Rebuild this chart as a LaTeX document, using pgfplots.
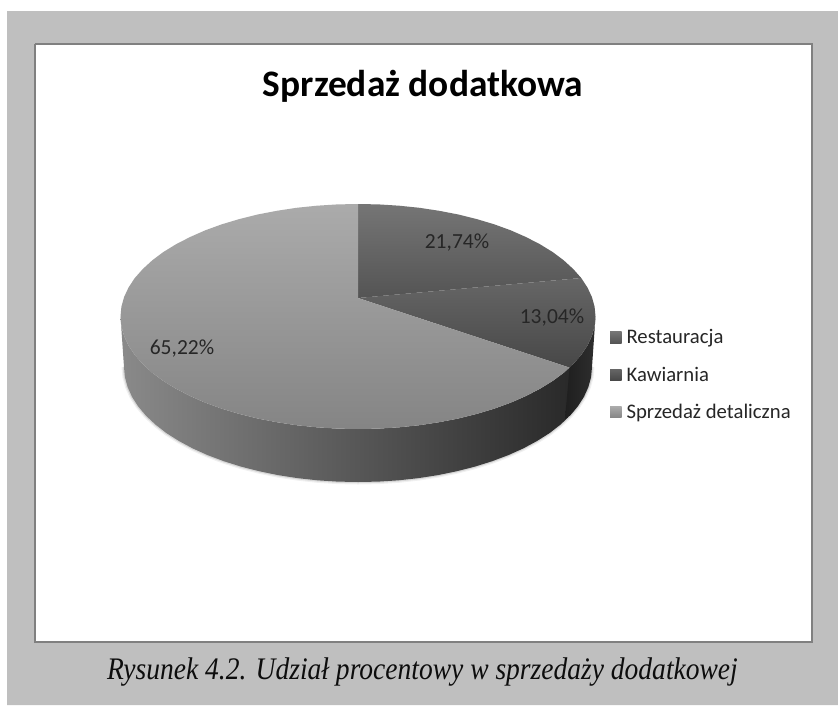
\documentclass[border=0pt]{standalone}
\usepackage{fontspec}
\setmainfont{Carlito}
\newfontfamily\capfont{Liberation Serif}
\usepackage{graphicx}
\usepackage{pgfplots}
\usepackage{pgfplotstable}
\pgfplotsset{compat=1.18}
\definecolor{pagebg}{HTML}{BFBFBF}
\definecolor{framec}{HTML}{808080}
\definecolor{txt}{HTML}{262626}

% slice shares (%): Restauracja 21.74, Kawiarnia 13.04, Sprzedaz detaliczna 65.22
\pgfplotstableread{
x y
358 298
358 204
378.7 204.4
399.2 205.7
419.5 207.8
439.2 210.8
458.4 214.5
476.8 219.1
494.2 224.3
510.7 230.3
525.9 237
539.9 244.2
552.6 252
563.7 260.3
573.2 269
581.2 278
358 298
}\sliceA
\pgfplotstableread{
x y
358 298
581.2 278
587.4 287.4
591.9 297
594.6 306.7
595.5 316.5
594.6 326.3
591.9 336
587.4 345.6
581.2 355
573.2 364
569.6 367.6
358 298
}\sliceB
\pgfplotstableread{
x y
358 298
569.6 367.6
563.7 372.8
552.6 381
539.9 388.8
525.9 396
510.7 402.7
494.2 408.7
476.8 413.9
458.4 418.5
439.2 422.2
419.5 425.2
399.2 427.3
378.7 428.6
358 429
337.3 428.6
316.8 427.3
296.5 425.2
276.8 422.2
257.6 418.5
239.2 413.9
221.8 408.7
205.3 402.7
190.1 396
176.1 388.8
163.4 381
152.3 372.8
142.8 364
134.8 355
128.6 345.6
124.1 336
121.4 326.3
120.5 316.5
121.4 306.7
124.1 297
128.6 287.4
134.8 278
142.8 269
152.3 260.3
163.4 252
176.1 244.2
190.1 237
205.3 230.3
221.8 224.3
239.2 219.1
257.6 214.5
276.8 210.8
296.5 207.8
316.8 205.7
337.3 204.4
358 204
358 298
}\sliceC
\pgfplotstableread{
x y
572 365
563.7 372.8
552.6 381
539.9 388.8
525.9 396
510.7 402.7
494.2 408.7
476.8 413.9
458.4 418.5
439.2 422.2
419.5 425.2
399.2 427.3
378.7 428.6
358 429
337.3 428.6
316.8 427.3
296.5 425.2
276.8 422.2
257.6 418.5
239.2 413.9
221.8 408.7
205.3 402.7
190.1 396
176.1 388.8
163.4 381
152.3 372.8
142.8 364
134.8 355
128.6 345.6
124.1 336
121.4 326.3
120.5 316.5
124 367
124.9 377
127.6 387
132 396.8
138.1 406.3
145.9 415.6
155.4 424.5
166.3 433
178.8 440.9
192.5 448.3
207.6 455.1
223.8 461.2
241 466.6
259.1 471.2
278 475.1
297.4 478.1
317.4 480.3
337.6 481.6
358 482
378.4 481.6
398.6 480.3
418.6 478.1
438 475.1
456.9 471.2
475 466.6
492.2 461.2
508.4 455.1
523.5 448.3
537.2 440.9
549.7 433
560.6 424.5
568 417.5
572 365
}\sideC
\pgfplotstableread{
x y
569.6 367.6
573.2 364
581.2 355
587.4 345.6
591.9 336
594.6 326.3
595.5 316.5
592 367
591.1 377
588.4 387
584 396.8
577.9 406.3
570.1 415.6
565 419
569.6 367.6
}\sideB
\pgfplotstableread{
x y
124 367
124.9 377
127.6 387
132 396.8
138.1 406.3
145.9 415.6
155.4 424.5
166.3 433
178.8 440.9
192.5 448.3
207.6 455.1
223.8 461.2
241 466.6
259.1 471.2
278 475.1
297.4 478.1
317.4 480.3
337.6 481.6
358 482
378.4 481.6
398.6 480.3
418.6 478.1
438 475.1
456.9 471.2
475 466.6
492.2 461.2
508.4 455.1
523.5 448.3
537.2 440.9
549.7 433
560.6 424.5
570.1 415.6
577.9 406.3
584 396.8
588.4 387
591.1 377
592 367
}\shadowArc

\pgfplotsset{
  pielegend/.style={legend image code/.code={
    \path[##1,draw=none] (0pt,-5.75pt) rectangle (11.5pt,5.75pt);}},
}
\begin{document}
\begin{tikzpicture}
\begin{axis}[
  scale only axis, width=838pt, height=705pt,
  xmin=0, xmax=838, ymin=0, ymax=705, y dir=reverse,
  hide axis, clip=false,
  title={\fontsize{37.4}{42}\selectfont\bfseries Sprzedaż dodatkowa},
  title style={at={(423/838,1-92/705)}, anchor=center, inner sep=0pt, text=black},
  legend style={draw=none, fill=none, at={(0.728,0.5324)}, anchor=north west,
    font=\fontsize{20.7}{23}\selectfont, text=txt, row sep=21.5pt, inner sep=0pt, outer sep=0pt,
    nodes={inner xsep=5pt, inner ysep=0pt, anchor=west}},
  legend cell align=left,
]
% page and chart frame
\addplot[forget plot, fill=white, draw=none] coordinates {(0,0) (838,0) (838,705) (0,705) (0,0)};
\addplot[forget plot, fill=pagebg, draw=none] coordinates {(7,11) (838,11) (838,705) (7,705) (7,11)};
\addplot[forget plot, fill=white, draw=framec, line width=1.6pt] coordinates {(35,44) (812,44) (812,642) (35,642) (35,44)};
% soft shadow under the pie
\addplot[forget plot, draw=black, opacity=0.06, line width=5pt] table {\shadowArc};
\addplot[forget plot, draw=black, opacity=0.10, line width=2.5pt] table {\shadowArc};
% pie side
\addplot[forget plot, shade, left color=black!46, middle color=black!70, right color=black!84, draw=none] table {\sideC};
\addplot[forget plot, shade, left color=black!88, right color=black!82, draw=none] table {\sideB};
% pie top
\addplot[shade, top color=black!54, bottom color=black!67, draw=none, pielegend] table {\sliceA};
\addlegendentry{Restauracja}
\addplot[shade, top color=black!60, bottom color=black!72, draw=none, pielegend] table {\sliceB};
\addlegendentry{Kawiarnia}
\addplot[shade, top color=black!33, bottom color=black!48, draw=none, pielegend] table {\sliceC};
\addlegendentry{Sprzedaż detaliczna}
% data labels
\node[text=txt, font=\fontsize{21.5}{24}\selectfont] at (axis cs:457,243) {21,74\%};
\node[text=txt, font=\fontsize{21.5}{24}\selectfont] at (axis cs:552,317.5) {13,04\%};
\node[text=txt, font=\fontsize{21.5}{24}\selectfont] at (axis cs:182,349) {65,22\%};
% caption
\node[text=black!95, inner sep=0pt] at (axis cs:422.5,672) {\scalebox{0.983}[1.12]{\capfont\itshape\fontsize{28}{32}\selectfont Rysunek 4.2. Udział procentowy w sprzedaży dodatkowej}};
\end{axis}
\end{tikzpicture}
\end{document}
